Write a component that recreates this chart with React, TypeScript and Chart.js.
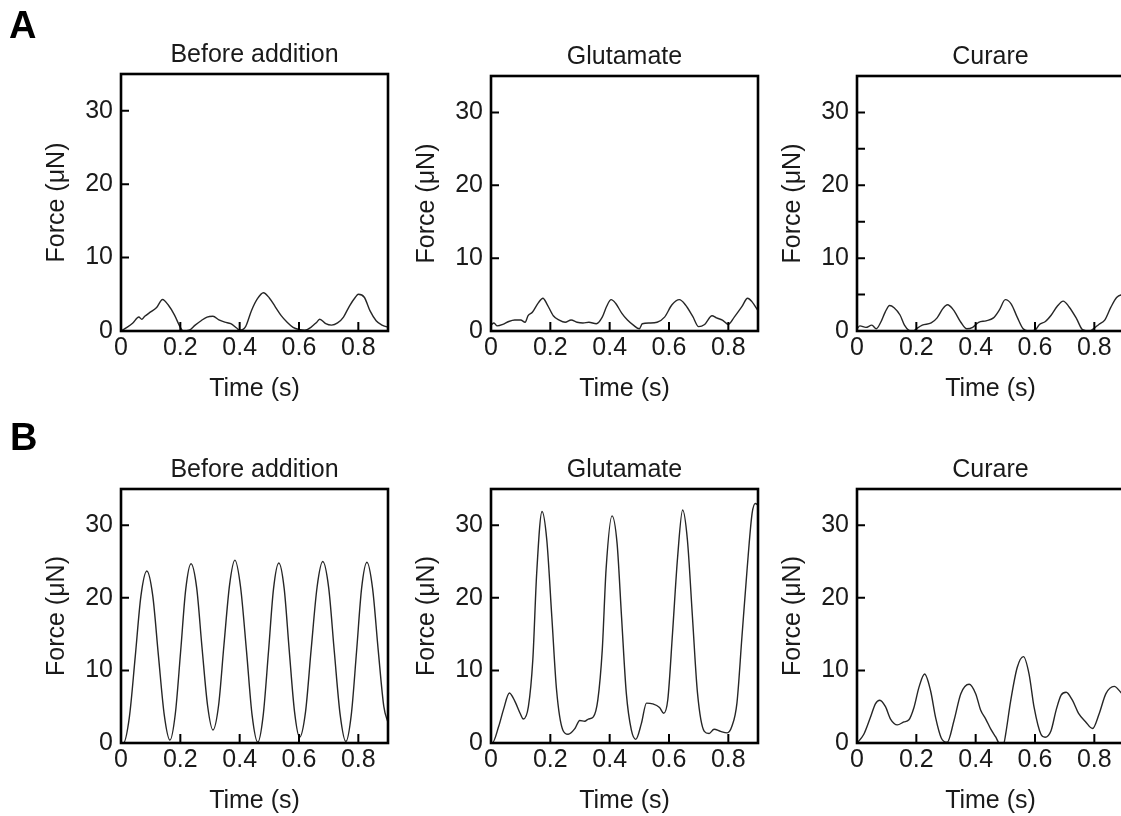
import React, { useEffect, useRef } from 'react';
import { Chart, registerables } from 'chart.js';

Chart.register(...registerables);

// ---------- axis ticks ----------
const X_TICKS = [0, 0.2, 0.4, 0.6, 0.8];
const Y_TICKS = [0, 10, 20, 30];
const Y_MINOR = [5, 15, 25];
const X_MAX = 0.9;
const Y_MAX = 35;

const PANEL_TITLES = ['Before addition', 'Glutamate', 'Curare'];
const ROW_LABELS = ['A', 'B'];

// ---------- row A ----------
const A_BEFORE_T = [0, 0.02, 0.04, 0.06, 0.07, 0.08, 0.1, 0.12, 0.14, 0.16, 0.18, 0.2, 0.21, 0.23, 0.25, 0.27, 0.29, 0.31, 0.33, 0.35, 0.37, 0.39, 0.4, 0.42, 0.44, 0.46, 0.48, 0.5, 0.52, 0.54, 0.56, 0.58, 0.6, 0.62, 0.64, 0.66, 0.67, 0.69, 0.71, 0.73, 0.75, 0.77, 0.79, 0.8, 0.82, 0.84, 0.86, 0.88, 0.9];
const A_BEFORE_F = [0, 0.5, 1.1, 1.9, 1.6, 2.0, 2.6, 3.2, 4.3, 3.5, 2.2, 0.5, 0, 0.1, 0.8, 1.4, 1.9, 2.0, 1.5, 1.2, 1.0, 0.4, 0.1, 0.6, 2.8, 4.4, 5.2, 4.5, 3.3, 2.1, 1.2, 0.5, 0.2, 0.1, 0.5, 1.2, 1.6, 1.0, 0.8, 1.1, 1.9, 3.4, 4.6, 5.0, 4.6, 2.7, 1.4, 0.8, 0.5];

const A_GLUT_T = [0, 0.01, 0.02, 0.04, 0.06, 0.08, 0.1, 0.115, 0.125, 0.14, 0.16, 0.175, 0.19, 0.21, 0.23, 0.25, 0.27, 0.29, 0.31, 0.33, 0.355, 0.375, 0.39, 0.405, 0.42, 0.44, 0.46, 0.48, 0.5, 0.51, 0.535, 0.56, 0.585, 0.61, 0.635, 0.655, 0.68, 0.7, 0.72, 0.745, 0.76, 0.78, 0.8, 0.82, 0.845, 0.865, 0.88, 0.9];
const A_GLUT_F = [0.8, 1.1, 0.7, 0.9, 1.3, 1.5, 1.5, 1.2, 2.1, 2.6, 3.9, 4.5, 3.6, 2.1, 1.5, 1.2, 1.5, 1.2, 1.1, 1.2, 1.0, 1.9, 3.4, 4.3, 3.8, 2.5, 1.5, 0.8, 0.3, 1.0, 1.1, 1.2, 1.9, 3.6, 4.3, 3.6, 2.0, 0.6, 0.9, 2.1, 1.8, 1.5, 0.9, 1.9, 3.3, 4.5, 4.0, 2.8];

const A_CURARE_T = [0, 0.01, 0.03, 0.05, 0.065, 0.08, 0.095, 0.11, 0.125, 0.145, 0.16, 0.175, 0.19, 0.2, 0.22, 0.25, 0.27, 0.29, 0.305, 0.325, 0.35, 0.37, 0.39, 0.41, 0.435, 0.46, 0.48, 0.5, 0.52, 0.54, 0.56, 0.58, 0.6, 0.615, 0.635, 0.655, 0.675, 0.695, 0.715, 0.74, 0.76, 0.785, 0.8, 0.815, 0.835, 0.855, 0.875, 0.9];
const A_CURARE_F = [0.3, 0.7, 0.5, 0.8, 0.3, 1.2, 2.6, 3.5, 3.2, 2.2, 0.8, 0.1, 0, 0.3, 0.8, 1.1, 1.8, 3.1, 3.6, 2.9, 1.2, 0.3, 0.5, 1.2, 1.4, 1.8, 2.9, 4.3, 3.7, 1.9, 0.3, 0, 0.1, 0.9, 1.3, 2.2, 3.4, 4.1, 3.3, 1.7, 0.2, 0, 0.4, 0.9, 1.5, 3.2, 4.6, 5.1];

// ---------- row B ----------
const B_BEFORE_T = [0, 0.008, 0.028, 0.048, 0.067, 0.087, 0.107, 0.126, 0.146, 0.165, 0.183, 0.201, 0.218, 0.236, 0.255, 0.273, 0.292, 0.31, 0.329, 0.347, 0.366, 0.384, 0.403, 0.423, 0.442, 0.461, 0.479, 0.497, 0.514, 0.532, 0.55, 0.567, 0.585, 0.602, 0.622, 0.641, 0.661, 0.68, 0.7, 0.719, 0.739, 0.758, 0.776, 0.794, 0.811, 0.829, 0.848, 0.867, 0.886, 0.9];
const B_BEFORE_F = [0, 0, 3.5, 11.9, 20.2, 23.7, 20.3, 12.1, 3.8, 0.4, 4.0, 12.6, 21.1, 24.7, 21.4, 13.2, 5.1, 1.8, 5.2, 13.5, 21.8, 25.2, 21.5, 12.7, 3.8, 0.1, 3.7, 12.5, 21.2, 24.8, 21.3, 12.8, 4.3, 0.8, 4.3, 12.9, 21.5, 25.0, 21.4, 12.6, 3.8, 0.2, 3.8, 12.6, 21.3, 24.9, 21.3, 12.8, 5.0, 2.8];

const B_GLUT_T = [0, 0.004, 0.026, 0.042, 0.062, 0.081, 0.098, 0.109, 0.126, 0.141, 0.154, 0.172, 0.188, 0.205, 0.221, 0.242, 0.26, 0.283, 0.299, 0.316, 0.328, 0.345, 0.36, 0.375, 0.388, 0.408, 0.425, 0.44, 0.456, 0.473, 0.488, 0.507, 0.524, 0.545, 0.568, 0.582, 0.596, 0.612, 0.629, 0.646, 0.662, 0.679, 0.696, 0.719, 0.735, 0.752, 0.774, 0.796, 0.812, 0.829, 0.846, 0.863, 0.88, 0.891, 0.9];
const B_GLUT_F = [0, 0, 2.3, 4.6, 6.9, 5.7, 4.1, 3.3, 5.0, 11.5, 23.4, 31.9, 28.0, 17.4, 7.3, 1.8, 1.2, 2.0, 3.1, 3.0, 3.3, 3.6, 5.9, 12.8, 24.0, 31.3, 27.5, 17.4, 6.9, 1.8, 0.5, 2.7, 5.5, 5.4, 4.9, 4.1, 6.0, 15.2, 25.6, 32.1, 28.0, 17.4, 6.9, 1.6, 1.3, 1.9, 1.6, 1.4, 2.3, 5.5, 14.7, 23.8, 31.6, 33.0, 32.8];

const B_CURARE_T = [0, 0.023, 0.045, 0.062, 0.077, 0.096, 0.113, 0.136, 0.158, 0.175, 0.192, 0.209, 0.228, 0.248, 0.265, 0.284, 0.304, 0.327, 0.35, 0.378, 0.4, 0.417, 0.434, 0.451, 0.468, 0.48, 0.495, 0.501, 0.518, 0.54, 0.561, 0.58, 0.597, 0.62, 0.634, 0.654, 0.671, 0.688, 0.705, 0.726, 0.748, 0.771, 0.794, 0.816, 0.839, 0.867, 0.889, 0.9];
const B_CURARE_F = [0, 1.2, 3.5, 5.4, 5.9, 5.0, 3.3, 2.5, 2.9, 3.2, 4.9, 7.7, 9.5, 7.2, 3.5, 0.7, 0.1, 3.1, 6.8, 8.1, 6.8, 4.5, 3.3, 1.9, 0.8, 0, 0, 1.2, 5.8, 10.4, 11.9, 9.5, 4.9, 1.2, 0.8, 1.7, 4.5, 6.6, 7.0, 5.9, 4.0, 2.9, 2.0, 4.0, 6.8, 7.8, 7.0, 6.5];

// ---------- layout ----------
const FONT = 'Arial, "Liberation Sans", Helvetica, sans-serif';
const TXT = '#1a1a1a';
const Y_W = 120;
const TOP_H = 74;
const X_H = 74;
const PLOT_W = 267;
const RIGHT_PAD = 8;

type Spec = {
  title: string;
  t: number[];
  f: number[];
  left: number;
  top: number;
  plotH: number;
  minor: boolean;
};

const SPECS: Spec[] = [
  { title: PANEL_TITLES[0], t: A_BEFORE_T, f: A_BEFORE_F, left: 121, top: 74, plotH: 257, minor: false },
  { title: PANEL_TITLES[1], t: A_GLUT_T, f: A_GLUT_F, left: 491, top: 76, plotH: 255, minor: false },
  { title: PANEL_TITLES[2], t: A_CURARE_T, f: A_CURARE_F, left: 857, top: 76, plotH: 255, minor: true },
  { title: PANEL_TITLES[0], t: B_BEFORE_T, f: B_BEFORE_F, left: 121, top: 489, plotH: 254, minor: false },
  { title: PANEL_TITLES[1], t: B_GLUT_T, f: B_GLUT_F, left: 491, top: 489, plotH: 254, minor: false },
  { title: PANEL_TITLES[2], t: B_CURARE_T, f: B_CURARE_F, left: 857, top: 489, plotH: 254, minor: false },
];

const framePlugin = {
  id: 'frame',
  afterDatasetsDraw(chart: any, _args: any, opts: any) {
    const { ctx, chartArea: a, scales } = chart;
    ctx.save();
    ctx.strokeStyle = '#000';
    ctx.lineWidth = 2;
    ctx.beginPath();
    X_TICKS.forEach((v) => {
      if (v === 0) return;
      const x = scales.x.getPixelForValue(v);
      ctx.moveTo(x, a.bottom);
      ctx.lineTo(x, a.bottom - 9);
    });
    const yt = opts && opts.minor ? [...Y_TICKS, ...Y_MINOR] : Y_TICKS;
    yt.forEach((v) => {
      if (v === 0) return;
      const y = scales.y.getPixelForValue(v);
      ctx.moveTo(a.left, y);
      ctx.lineTo(a.left + 8, y);
    });
    ctx.stroke();
    ctx.lineWidth = 2.6;
    ctx.strokeRect(a.left, a.top, a.right - a.left, a.bottom - a.top);
    ctx.restore();
  },
};

function Panel({ spec }: { spec: Spec }) {
  const ref = useRef<HTMLCanvasElement>(null);
  const W = Y_W + PLOT_W + RIGHT_PAD;
  const H = TOP_H + spec.plotH + X_H;

  useEffect(() => {
    if (!ref.current) return;
    const font = { family: FONT, size: 25, weight: 'normal' as const };
    const chart = new Chart(ref.current, {
      type: 'line',
      data: {
        datasets: [
          {
            data: spec.t.map((x, i) => ({ x, y: spec.f[i] })),
            borderColor: '#262626',
            borderWidth: 1.4,
            pointRadius: 0,
            fill: false,
            cubicInterpolationMode: 'monotone',
          },
        ],
      },
      options: {
        responsive: false,
        maintainAspectRatio: false,
        animation: false,
        devicePixelRatio: 1,
        events: [],
        layout: { padding: { top: 0, right: RIGHT_PAD, left: 0, bottom: 0 } },
        plugins: {
          legend: { display: false },
          tooltip: { enabled: false },
          title: {
            display: true,
            text: spec.title,
            fullSize: false,
            color: TXT,
            font,
            padding: { top: 40, bottom: 4 },
          },
          frame: { minor: spec.minor },
        } as any,
        scales: {
          x: {
            type: 'linear',
            min: 0,
            max: X_MAX,
            afterBuildTicks: (s: any) => {
              s.ticks = X_TICKS.map((v) => ({ value: v }));
            },
            afterFit: (s: any) => {
              s.height = X_H;
            },
            grid: { display: false, drawTicks: false },
            border: { display: false },
            ticks: {
              padding: 2,
              color: TXT,
              font,
              autoSkip: false,
              maxRotation: 0,
              callback: (v: any) => (Number(v) === 0 ? '0' : Number(v).toFixed(1)),
            },
            title: { display: true, text: 'Time (s)', color: TXT, font, padding: { top: 0, bottom: 1 } },
          },
          y: {
            type: 'linear',
            min: 0,
            max: Y_MAX,
            afterBuildTicks: (s: any) => {
              s.ticks = Y_TICKS.map((v) => ({ value: v }));
            },
            afterFit: (s: any) => {
              s.width = Y_W;
            },
            grid: { display: false, drawTicks: false },
            border: { display: false },
            ticks: { padding: 8, color: TXT, font, callback: (v: any) => String(v) },
            title: { display: true, text: 'Force (μN)', color: TXT, font, padding: { top: 41, bottom: 0 } },
          },
        },
      },
      plugins: [framePlugin as any],
    });
    return () => chart.destroy();
  }, [spec]);

  return (
    <canvas
      ref={ref}
      width={W}
      height={H}
      style={{ position: 'absolute', left: spec.left - Y_W, top: spec.top - TOP_H, width: W, height: H }}
    />
  );
}

export default function App() {
  return (
    <div
      style={{
        position: 'fixed',
        left: 0,
        top: 0,
        width: 1121,
        height: 816,
        overflow: 'hidden',
        background: '#fff',
      }}
    >
      {SPECS.map((s, i) => (
        <Panel key={i} spec={s} />
      ))}
      <div style={{ position: 'absolute', left: 9, top: 6, font: `bold 38px ${FONT}`, lineHeight: '38px', color: '#000' }}>
        {ROW_LABELS[0]}
      </div>
      <div style={{ position: 'absolute', left: 10, top: 418, font: `bold 38px ${FONT}`, lineHeight: '38px', color: '#000' }}>
        {ROW_LABELS[1]}
      </div>
    </div>
  );
}
